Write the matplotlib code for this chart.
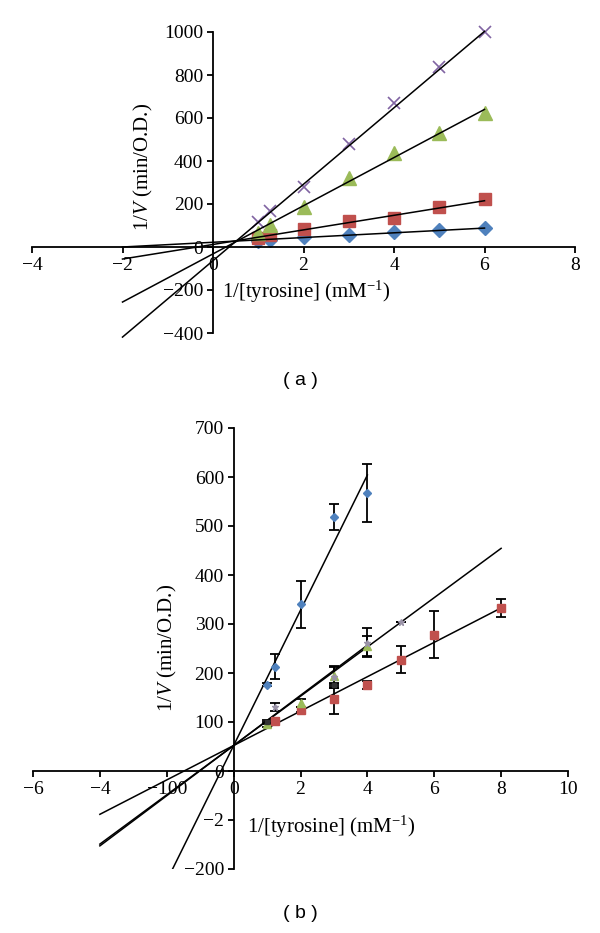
import numpy as np
import matplotlib
matplotlib.use("Agg")
import matplotlib.pyplot as plt

plt.rcParams['font.family'] = ['Liberation Serif', 'DejaVu Serif']
plt.rcParams['mathtext.fontset'] = 'custom'
plt.rcParams['mathtext.rm'] = 'Liberation Serif'
plt.rcParams['mathtext.it'] = 'Liberation Serif:italic'
plt.rcParams['axes.unicode_minus'] = True

# ---------------- Panel (a) data ----------------
a_x = [1, 1.25, 2, 3, 4, 5, 6]
a_blue = [30, 33, 46, 56, 71, 79, 88]
a_red = [42, 56, 82, 121, 136, 188, 222]
a_green = [65, 102, 188, 322, 439, 528, 625]
a_purple = [118, 169, 280, 478, 668, 836, 1002]
# trendlines (slope, intercept)
a_slopes = [11.0, 33.9, 112.0, 177.75]
a_intercepts = [22.0, 11.8, -32.0, -63.5]
a_line_range = [-2, 6]
a_xticks = [-4, -2, 0, 2, 4, 6, 8]
a_yticks = [-400, -200, 0, 200, 400, 600, 800, 1000]

# ---------------- Panel (b) data ----------------
b_blue_x = [1, 1.25, 2, 3, 4]
b_blue_y = [176, 213, 340, 518, 568]
b_blue_err = [3, 25, 48, 27, 59]
b_red_x = [1.25, 2, 3, 4, 5, 6, 8]
b_red_y = [103, 125, 147, 176, 227, 278, 333]
b_red_err = [5, 5, 30, 8, 28, 48, 19]
b_green_x = [1, 2, 3, 4]
b_green_y = [95, 138, 193, 255]
b_green_err = [5, 8, 20, 20]
b_gray_x = [1.25, 3, 4, 5]
b_gray_y = [130, 192, 262, 305]
b_gray_err = [8, 23, 30, 0]
b_dark_x = [1, 3]
b_dark_y = [100, 175]
b_dark_err = [5, 5]
# trendlines: slope, intercept, x-range end
b_slopes = [138.0, 35.1, 51.2, 50.3]
b_intercepts = [52.0, 52.0, 52.0, 52.0]
b_line_ends = [4, 8, 4, 8]
b_line_start = -4
b_xticks = [-6, -4, -2, 0, 2, 4, 6, 8, 10]
b_xticklabels = ['\u22126', '\u22124', '\u2212100', '0', '2', '4', '6', '8', '10']
b_yticks = [-200, -100, 0, 100, 200, 300, 400, 500, 600, 700]
b_yticklabels = ['\u2212200', '\u22122', '0', '100', '200', '300', '400', '500', '600', '700']

BLUE = '#4F81BD'
RED = '#C0504D'
GREEN = '#9BBB59'
PURPLE = '#8064A2'
GRAY = '#9A93A8'

W, H = 600, 933
fig = plt.figure(figsize=(W / 100, H / 100), dpi=100)


def px_axes(x0, x1, ytop, ybot):
    return fig.add_axes([x0 / W, 1 - ybot / H, (x1 - x0) / W, (ybot - ytop) / H])


def style(ax):
    ax.spines['left'].set_position(('data', 0))
    ax.spines['bottom'].set_position(('data', 0))
    ax.spines['top'].set_visible(False)
    ax.spines['right'].set_visible(False)
    for s in ('left', 'bottom'):
        ax.spines[s].set_linewidth(1.3)
        ax.spines[s].set_color('black')
    ax.tick_params(direction='out', length=4, width=1.3, labelsize=14, pad=3)
    ax.patch.set_alpha(0)


# ---------------- Panel (a) ----------------
ax1 = px_axes(32, 575, 32, 333)
ax1.set_xlim(-4, 8)
ax1.set_ylim(-400, 1000)
style(ax1)
ax1.set_xticks(a_xticks)
ax1.set_yticks(a_yticks)

xl = np.array(a_line_range, dtype=float)
for s, b in zip(a_slopes, a_intercepts):
    ax1.plot(xl, s * xl + b, color='black', lw=1.1, zorder=3, clip_on=False)

ax1.plot(a_x, a_blue, linestyle='none', marker='D', ms=7, color=BLUE, zorder=2, clip_on=False)
ax1.plot(a_x, a_red, linestyle='none', marker='s', ms=8.5, color=RED, zorder=2, clip_on=False)
ax1.plot(a_x, a_green, linestyle='none', marker='^', ms=10, color=GREEN, zorder=2, clip_on=False)
ax1.plot(a_x, a_purple, linestyle='none', marker='x', ms=9, mew=1.2, color=PURPLE, zorder=2,
         clip_on=False)

fig.text(143 / W, 1 - 167 / H, r'1/$V$ (min/O.D.)', rotation=90, ha='center', va='center', fontsize=15)
fig.text(222 / W, 1 - 292 / H, r'1/[tyrosine] (mM$^{-1}$)', ha='left', va='center', fontsize=15)
fig.text(300 / W, 1 - 380 / H, '( a )', ha='center', va='center', fontsize=14,
         family=['Liberation Sans', 'DejaVu Sans'])

# ---------------- Panel (b) ----------------
ax2 = px_axes(33, 568, 428, 869)
ax2.set_xlim(-6, 10)
ax2.set_ylim(-200, 700)
style(ax2)
ax2.set_xticks(b_xticks)
ax2.set_xticklabels(b_xticklabels)
ax2.set_yticks(b_yticks)
ax2.set_yticklabels(b_yticklabels)

for s, b, e in zip(b_slopes, b_intercepts, b_line_ends):
    xx = np.array([b_line_start, e], dtype=float)
    ax2.plot(xx, s * xx + b, color='black', lw=1.1, zorder=3)

ekw = dict(linestyle='none', ecolor='black', elinewidth=1.3, capsize=3.5, capthick=1.3, zorder=4)
ax2.errorbar(b_blue_x, b_blue_y, yerr=b_blue_err, marker='D', ms=4.5, color=BLUE, **ekw)
ax2.errorbar(b_red_x, b_red_y, yerr=b_red_err, marker='s', ms=5.5, color=RED, **ekw)
ax2.errorbar(b_green_x, b_green_y, yerr=b_green_err, marker='^', ms=6, color=GREEN, **ekw)
ax2.errorbar(b_gray_x, b_gray_y, yerr=b_gray_err, marker='*', ms=5, color=GRAY, **ekw)
ax2.errorbar(b_dark_x, b_dark_y, yerr=b_dark_err, marker='s', ms=3.5, color='#333333', **ekw)

fig.text(167 / W, 1 - 648 / H, r'1/$V$ (min/O.D.)', rotation=90, ha='center', va='center', fontsize=15)
fig.text(247 / W, 1 - 827 / H, r'1/[tyrosine] (mM$^{-1}$)', ha='left', va='center', fontsize=15)
fig.text(300 / W, 1 - 913 / H, '( b )', ha='center', va='center', fontsize=14,
         family=['Liberation Sans', 'DejaVu Sans'])

fig.savefig('out.png', dpi=100)
